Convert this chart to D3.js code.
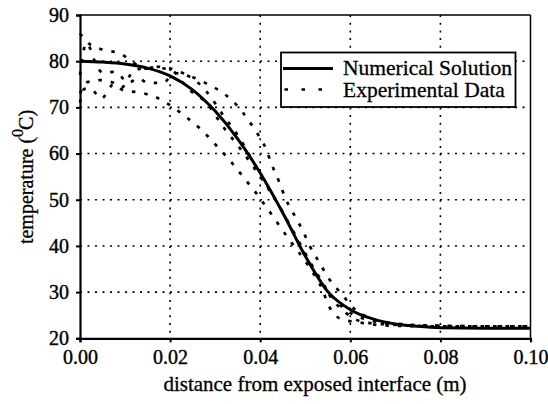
<!doctype html>
<html>
<head>
<meta charset="utf-8"/>
<title>temperature profile</title>
<script src="https://d3js.org/d3.v7.min.js"></script>
<style>
body{margin:0;background:#fff;}
text{font-family:"Liberation Serif","Times New Roman",serif;fill:#000;}
</style>
</head>
<body>
<script type="text/javascript">
// numerical solution
var numX = [0,0.005,0.01,0.015,0.02,0.025,0.03,0.035,0.04,0.045,0.05,0.055,0.06,0.065,0.07,0.075,0.08,0.09,0.1];
var numT = [80,79.8,79.4,78.5,76.8,73.8,69.2,63.2,55.8,47.2,37.8,30.1,26.2,24.2,23.1,22.6,22.3,22.2,22.2];

// experimental data (several thermocouple runs)
var expAx = [0,0.002,0.005,0.0085,0.0148,0.0176,0.0244,0.0278,0.0313,0.0348,0.0374,0.0396,0.0413,0.0426,0.0442,0.0456,0.0474,0.0495,0.0511,0.0532,0.0552,0.0578,0.062,0.07,0.08,0.09,0.1];
var expAt = [86,83.8,82.5,81.8,78.4,78.8,76.8,75.3,73.4,70.5,67.2,64,61,57.5,53.9,50.3,47,43.2,39.8,36.3,33,29.9,25.5,23.2,22.7,22.6,22.6];
var expBx = [0,0.001,0.0025,0.0047,0.0075,0.0096,0.0133,0.0166,0.0196,0.0233,0.027,0.0302,0.0332,0.0361,0.0389,0.0413,0.0437,0.0461,0.0485,0.0511,0.0537,0.0552,0.0581,0.0615,0.065,0.07,0.08,0.1];
var expBt = [71,74,73.9,71.9,75,73.7,73.2,72.3,70.7,68.1,65.1,61.8,58.6,55.1,51.7,48.5,45.2,41.8,38.7,35.1,30.8,27.1,24.1,23.5,23,22.7,22.6,22.6];
var expCx = [0,0.0014,0.004,0.0051,0.0077,0.0088,0.0107,0.0129,0.0151,0.0184,0.021,0.0244,0.028,0.032,0.035,0.038,0.041,0.044,0.047,0.05,0.053,0.056,0.059,0.063,0.07,0.08,0.1];
var expCt = [77,83.9,78.4,77.5,77.7,77,75.3,76.3,75.3,75.3,77.4,76.6,73.5,68,64,59,54,49,43.5,38,33,28.5,25.5,23.5,22.9,22.6,22.6];
var expDx = [0,0.0018,0.0029,0.0044,0.007,0.0092,0.012,0.016,0.02,0.024,0.028,0.032,0.036,0.04,0.044,0.048,0.052,0.056,0.06,0.064,0.07,0.08,0.09,0.1];
var expDt = [73,75.5,75.5,75.9,75.5,74.3,78,78.6,78.2,74,71,65.5,60.5,55,49,42,35,29,25.5,24,23,22.7,22.6,22.6];

var xTicks = [0,0.02,0.04,0.06,0.08,0.1];
var yTicks = [20,30,40,50,60,70,80,90];

var W = 548, H = 404;
var pL = 80, pR = 530.5, pT = 15, pB = 338.3;

var svg = d3.select("body").append("svg")
    .attr("width", W)
    .attr("height", H);

var x = d3.scaleLinear().domain([0,0.1]).range([pL,pR]);
var y = d3.scaleLinear().domain([20,90]).range([pB,pT]);

// grid
svg.selectAll(".hg").data(yTicks.slice(1,-1)).enter().append("line")
  .attr("x1", pL).attr("x2", pR)
  .attr("y1", function(d){return y(d)}).attr("y2", function(d){return y(d)})
  .attr("stroke","#000").attr("stroke-width",1.6).attr("stroke-dasharray","2,5.5");
svg.selectAll(".vg").data(xTicks.slice(1,-1)).enter().append("line")
  .attr("y1", pT).attr("y2", pB)
  .attr("x1", function(d){return x(d)}).attr("x2", function(d){return x(d)})
  .attr("stroke","#000").attr("stroke-width",1.6).attr("stroke-dasharray","2,5.7");

// frame top/right
svg.append("line").attr("x1",pL).attr("x2",pR).attr("y1",pT).attr("y2",pT)
  .attr("stroke","#000").attr("stroke-width",1.5);
svg.append("line").attr("x1",pR).attr("x2",pR).attr("y1",pT).attr("y2",pB)
  .attr("stroke","#000").attr("stroke-width",1.5);

// experimental lines
var exps = [[expAx,expAt],[expBx,expBt],[expCx,expCt],[expDx,expDt]];
var line = d3.line()
  .x(function(d){return x(d[0])})
  .y(function(d){return y(d[1])})
  .curve(d3.curveMonotoneX);
exps.forEach(function(s){
  var pts = s[0].map(function(v,i){return [v, s[1][i]]});
  svg.append("path").attr("d", line(pts))
    .attr("fill","none").attr("stroke","#000").attr("stroke-width",2.7)
    .attr("stroke-dasharray","3.5,9");
});

// numerical solution
var numPts = numX.map(function(v,i){return [v, numT[i]]});
svg.append("path").attr("d", line(numPts))
  .attr("fill","none").attr("stroke","#000").attr("stroke-width",3);

// axes
var xAxis = svg.append("g").attr("transform","translate(0,"+pB+")")
  .call(d3.axisBottom(x).tickValues(xTicks).tickSize(4).tickFormat(d3.format(".2f")));
var yAxis = svg.append("g").attr("transform","translate("+pL+",0)")
  .call(d3.axisLeft(y).tickValues(yTicks).tickSize(4));
[xAxis,yAxis].forEach(function(a){
  a.select(".domain").attr("stroke","#000").attr("stroke-width",2.2);
  a.selectAll(".tick line").attr("stroke","#000").attr("stroke-width",2);
  a.selectAll(".tick text").attr("font-family","Liberation Serif").attr("font-size",20)
    .attr("fill","#000").attr("stroke","#000").attr("stroke-width",0.4);
});
xAxis.selectAll(".tick text").attr("y",12);
yAxis.selectAll(".tick text").attr("x",-11);

// axis titles
svg.append("text").attr("x",315).attr("y",391).attr("text-anchor","middle")
  .attr("font-size",21).attr("stroke","#000").attr("stroke-width",0.3)
  .text("distance from exposed interface (m)");
var yt = svg.append("text").attr("transform","translate(33,177) rotate(-90)")
  .attr("text-anchor","middle").attr("font-size",20)
  .attr("stroke","#000").attr("stroke-width",0.3);
yt.append("tspan").text("temperature (");
yt.append("tspan").attr("dy",-10).attr("font-size",16).text("0");
yt.append("tspan").attr("dy",10).attr("dx",-1).text("C)");

// legend
var lg = svg.append("g");
lg.append("rect").attr("x",281).attr("y",52.5).attr("width",234.5).attr("height",54.5)
  .attr("fill","#fff").attr("stroke","#000").attr("stroke-width",1.8);
lg.append("line").attr("x1",283).attr("x2",333).attr("y1",68.5).attr("y2",68.5)
  .attr("stroke","#000").attr("stroke-width",3);
lg.append("line").attr("x1",284.5).attr("x2",333).attr("y1",89.5).attr("y2",89.5)
  .attr("stroke","#000").attr("stroke-width",2.7).attr("stroke-dasharray","3.5,13.5");
lg.append("text").attr("x",343).attr("y",75).attr("font-size",21.5)
  .attr("stroke","#000").attr("stroke-width",0.3).text("Numerical Solution");
lg.append("text").attr("x",343).attr("y",97).attr("font-size",21.5)
  .attr("stroke","#000").attr("stroke-width",0.3).text("Experimental Data");
</script>
</body>
</html>
